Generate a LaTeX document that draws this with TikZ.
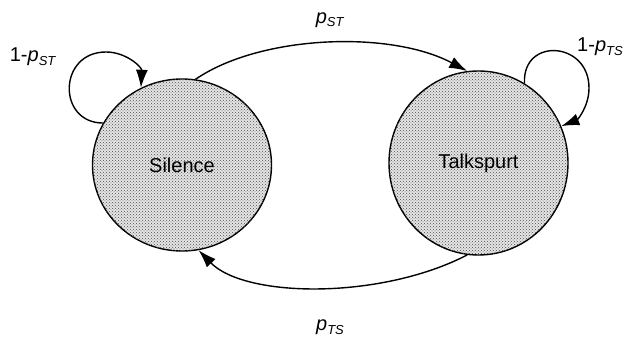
\documentclass[tikz,border=0pt]{standalone}
\usepackage{fontspec}
\setmainfont{Liberation Sans}
\usetikzlibrary{arrows.meta,shapes.geometric,patterns}
\tikzset{
  state/.style={ellipse, draw=black, line width=1.4pt, inner sep=0pt,
    fill=black!10, postaction={pattern=crosshatch dots, pattern color=black!70},
    font=\fontsize{20}{24}\selectfont},
  conn/.style={line width=1.4pt, -{Latex[length=18pt,width=12pt]}},
  lbl/.style={font=\fontsize{20}{24}\selectfont, inner sep=0pt}
}
\newcommand{\prob}[1]{\textit{p}\raisebox{-0.35ex}{\fontsize{13}{13}\selectfont\textit{#1}}}
\begin{document}
\begin{tikzpicture}[x=1pt,y=1pt]
\useasboundingbox (0,0) rectangle (624,339);
\node[state, minimum width=179pt, minimum height=172pt] (S) at (182,174) {Silence};
\node[state, minimum width=179pt, minimum height=184pt] (T) at (478.5,176) {Talkspurt};
% transitions
\draw[conn] (S.81) .. controls (260,304) and (390,309) .. (T.97);
\draw[conn] (T.263) .. controls (380,39) and (245,41) .. (S.281);
% self loops
\draw[conn] (S.152) .. controls (57,216) and (58,287) .. (106,287) .. controls (126,287) and (142,272) .. (S.118);
\draw[conn] (T.60) .. controls (522,302) and (589,298) .. (589,251) .. controls (589,232) and (577,219) .. (T.24);
% labels
\node[lbl] (l1) at (33,282) {1-\prob{ST}};
\node[lbl] (l2) at (330,319) {\prob{ST}};
\node[lbl] (l3) at (600,292) {1-\prob{TS}};
\node[lbl] (l4) at (330,12) {\prob{TS}};
\end{tikzpicture}
\end{document}
